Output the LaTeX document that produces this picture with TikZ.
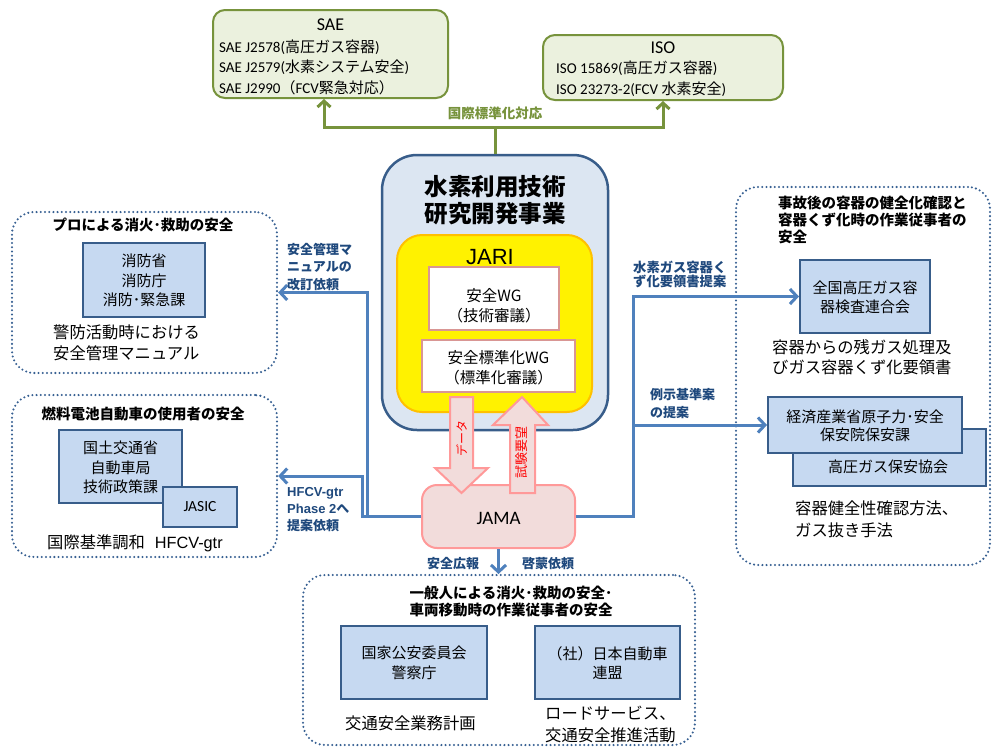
\documentclass[tikz,border=0pt]{standalone}
\usepackage{fontspec}
\setmainfont{Noto Sans CJK JP}
\newfontfamily\latf{Carlito}
\newfontfamily\arialf{Liberation Sans}
\usetikzlibrary{arrows.meta}
\newcommand\latx[1]{{\latf #1}}
\newcommand\arx[1]{{\arialf #1}}
\definecolor{gborder}{RGB}{119,147,60}
\definecolor{gfill}{RGB}{235,241,222}
\definecolor{dotc}{RGB}{55,96,146}
\definecolor{iborder}{RGB}{56,93,138}
\definecolor{ifill}{RGB}{198,217,241}
\definecolor{cblue}{RGB}{79,129,189}
\definecolor{lblue}{RGB}{31,73,125}
\definecolor{mfill}{RGB}{220,230,242}
\definecolor{jborder}{RGB}{255,192,0}
\definecolor{wgborder}{RGB}{217,150,148}
\definecolor{pfill}{RGB}{242,220,219}
\definecolor{pborder}{RGB}{255,153,153}
\begin{document}
\begin{tikzpicture}[x=1pt,y=-1pt,
  gbox/.style={draw=gborder, fill=gfill, line width=2pt, rounded corners=12pt, inner sep=0pt},
  dotbox/.style={draw=dotc, line width=2.3pt, dash pattern=on 0pt off 4.2pt, line cap=round, rounded corners=22pt, inner sep=0pt},
  ibox/.style={draw=iborder, fill=ifill, line width=2pt, inner sep=0pt},
  conn/.style={draw=cblue, line width=3pt, -{Straight Barb[length=7pt,width=15pt]}},
  gconn/.style={draw=gborder, line width=3pt},
  gconnar/.style={draw=gborder, line width=3pt, -{Straight Barb[length=6pt,width=13pt]}},
  lbl/.style={font=\bfseries\fontsize{13}{17.5}\selectfont, text=lblue, align=left, inner sep=0pt, anchor=west},
  ttl/.style={font=\bfseries\fontsize{14.5}{17}\selectfont, inner sep=0pt},
  body/.style={font=\fontsize{16.3}{20.5}\selectfont, inner sep=0pt, align=left, anchor=west},
  itxt/.style={font=\fontsize{15}{19.5}\selectfont, inner sep=0pt, align=center},
  gtxt/.style={font=\fontsize{15}{20.5}\selectfont, inner sep=0pt, align=left, anchor=west},
  parrow/.style={draw=pborder, fill=pfill, line width=2pt, line join=miter}
]
\useasboundingbox[fill=white] (0,0) rectangle (992,747);

% ---- SAE / ISO ----
\node[gbox, minimum width=235pt, minimum height=88pt] (sae) at (330.5,54) {};
\node[font=\latf\fontsize{18}{20}\selectfont, inner sep=0pt] (saet) at (330.5,25) {SAE};
\node[gtxt] (sael) at (219,67) {\latx{SAE J2578(}高圧ガス容器\latx{)}\\\latx{SAE J2579(}水素システム安全\latx{)}\\\latx{SAE J2990}（\latx{FCV}緊急対応）};

\node[gbox, minimum width=240pt, minimum height=65pt] (iso) at (663,67.5) {};
\node[font=\latf\fontsize{18}{20}\selectfont, inner sep=0pt] (isot) at (663,48) {ISO};
\node[gtxt] (isol) at (556,78.5) {\latx{ISO 15869(}高圧ガス容器\latx{)}\\\latx{ISO 23273-2(FCV }水素安全\latx{)}};

% ---- main box ----
\node[draw=iborder, fill=mfill, line width=2.5pt, rounded corners=35pt, minimum width=226pt, minimum height=275pt, inner sep=0pt] (main) at (495,292.5) {};
\node[font=\bfseries\fontsize{23.5}{26.5}\selectfont, align=center, inner sep=0pt] (maint) at (495,200) {水素利用技術\\研究開発事業};
\node[draw=jborder, fill=yellow, line width=2pt, rounded corners=25pt, minimum width=195pt, minimum height=177pt, inner sep=0pt] (jari) at (494.5,323.5) {};
\node[font=\arialf\fontsize{22}{24}\selectfont, inner sep=0pt] (jarit) at (490,257) {JARI};
\node[draw=wgborder, fill=white, line width=2pt, minimum width=130pt, minimum height=63pt, inner sep=0pt] (wg1) at (494,298.5) {};
\node[font=\fontsize{15.5}{20}\selectfont, align=center, inner sep=0pt] (wg1t) at (494,305.5) {安全WG\\（技術審議）};
\node[draw=wgborder, fill=white, line width=2pt, minimum width=153pt, minimum height=52pt, inner sep=0pt] (wg2) at (498.5,366) {};
\node[font=\fontsize{15.5}{20}\selectfont, align=center, inner sep=0pt] (wg2t) at (498.5,368) {安全標準化WG\\（標準化審議）};

% ---- JAMA ----
\node[draw=pborder, fill=pfill, line width=2pt, rounded corners=15pt, minimum width=153pt, minimum height=63pt, inner sep=0pt] (jama) at (498.5,516.5) {};
\node[font=\latf\fontsize{19}{21}\selectfont, inner sep=0pt] (jamat) at (498.5,518) {JAMA};

% big arrows
\draw[parrow] (450,397) -- (473,397) -- (473,468) -- (488,468) -- (461.5,493) -- (435,468) -- (450,468) -- cycle;
\node[rotate=90, text=red, font=\fontsize{12}{14}\selectfont, inner sep=0pt] (datat) at (461.5,438) {データ};
\draw[parrow] (510,493) -- (535,493) -- (535,425) -- (548,425) -- (522,397) -- (493,425) -- (510,425) -- cycle;
\node[rotate=90, text=red, font=\fontsize{13}{15}\selectfont, inner sep=0pt] (shikent) at (522,452) {試験要望};

% ---- green connector ----
\coordinate (gj) at (495,127);
\draw[gconn] (main.north) -- (gj);
\draw[gconnar] (gj) -| (324,0 |- sae.south);
\draw[gconnar] (gj) -| (iso.south);
\node[font=\bfseries\fontsize{13.5}{16}\selectfont, text=gborder, inner sep=0pt] (kokusait) at (495,113) {国際標準化対応};

% ---- left boxes ----
\node[dotbox, minimum width=265pt, minimum height=161pt] (pro) at (144.5,292.5) {};
\node[ttl] (prot) at (143,225) {プロによる消火･救助の安全};
\node[ibox, minimum width=122pt, minimum height=74pt] (shobo) at (144,280) {};
\node[itxt] (shobot) at (144,280.5) {消防省\\消防庁\\消防･緊急課};
\node[body] (keibou) at (53,343) {警防活動時における\\安全管理マニュアル};

\node[dotbox, minimum width=265pt, minimum height=162pt] (fcv) at (144.5,476) {};
\node[ttl] (fcvt) at (143,414) {燃料電池自動車の使用者の安全};
\node[ibox, minimum width=123pt, minimum height=73pt] (kokudo) at (120.5,466.5) {};
\node[itxt] (kokudot) at (120.5,467.5) {国土交通省\\自動車局\\技術政策課};
\node[ibox, minimum width=74pt, minimum height=40pt] (jasic) at (200,507) {};
\node[font=\latf\fontsize{15.5}{18}\selectfont, inner sep=0pt] (jasict) at (200,507) {JASIC};
\node[body] (kokusaik) at (47,543) {国際基準調和\hspace{0.6em}\arx{HFCV-gtr}};

% ---- right box ----
\node[dotbox, minimum width=254pt, minimum height=378pt] (jiko) at (863,376) {};
\node[ttl, anchor=west, align=left] (jikot) at (778,220) {事故後の容器の健全化確認と\\容器くず化時の作業従事者の\\安全};
\node[ibox, minimum width=130pt, minimum height=73pt] (zenkoku) at (865,296.5) {};
\node[itxt] (zenkokut) at (865,297.5) {全国高圧ガス容\\器検査連合会};
\node[body] (zanyo) at (772,357) {容器からの残ガス処理及\\びガス容器くず化要領書};
\node[ibox, minimum width=193pt, minimum height=57pt] (kouatsu) at (889.5,457.5) {};
\node[itxt] (kouatsut) at (888,467) {高圧ガス保安協会};
\node[ibox, minimum width=194pt, minimum height=56pt] (keisan) at (865,425) {};
\node[itxt, font=\fontsize{15}{18}\selectfont] (keisant) at (865,426) {経済産業省原子力･安全\\保安院保安課};
\node[body, font=\fontsize{16.3}{22}\selectfont] (kenzen) at (795,519) {容器健全性確認方法、\\ガス抜き手法};

% ---- bottom box ----
\node[dotbox, minimum width=392pt, minimum height=170pt] (ippan) at (499,660) {};
\node[ttl, align=center] (ippant) at (511,601.5) {一般人による消火･救助の安全･\\車両移動時の作業従事者の安全};
\node[ibox, minimum width=146pt, minimum height=73pt] (kokka) at (414,662.5) {};
\node[itxt] (kokkat) at (414,663) {国家公安委員会\\警察庁};
\node[ibox, minimum width=145pt, minimum height=73pt] (jaf) at (607.5,662.5) {};
\node[itxt] (jaft) at (607.5,663) {（社）日本自動車\\連盟};
\node[body] (koutsu) at (345,723) {交通安全業務計画};
\node[body, font=\fontsize{16.3}{22}\selectfont] (road) at (545,724) {ロードサービス、\\交通安全推進活動};

% ---- blue connectors ----
\draw[conn] (jama.west) -- (367,516.5) |- (pro.east);
\draw[conn] (jama.west) -- (362,516.5) |- (fcv.east);
\draw[conn] (jama.east) -- (633,516.5) |- (zenkoku.west);
\coordinate (rb) at (633,425);
\draw[conn] (rb) -- (keisan.west);
\draw[conn] (jama.south) -- (498.5,574);

% ---- connector labels ----
\node[lbl] (l1) at (287,267) {安全管理マ\\ニュアルの\\改訂依頼};
\node[lbl, font=\bfseries\fontsize{13}{17}\selectfont] (l2) at (287,510) {\arx{\bfseries HFCV-gtr}\\\arx{\bfseries Phase 2}へ\\提案依頼};
\node[lbl, font=\bfseries\fontsize{13.3}{14.8}\selectfont] (l3) at (633,274.5) {水素ガス容器く\\ず化要領書提案};
\node[lbl] (l4) at (650,403.5) {例示基準案\\の提案};
\node[lbl, anchor=center] (l5) at (453,564) {安全広報};
\node[lbl, anchor=center] (l6) at (548,564) {啓蒙依頼};
\end{tikzpicture}
\end{document}
